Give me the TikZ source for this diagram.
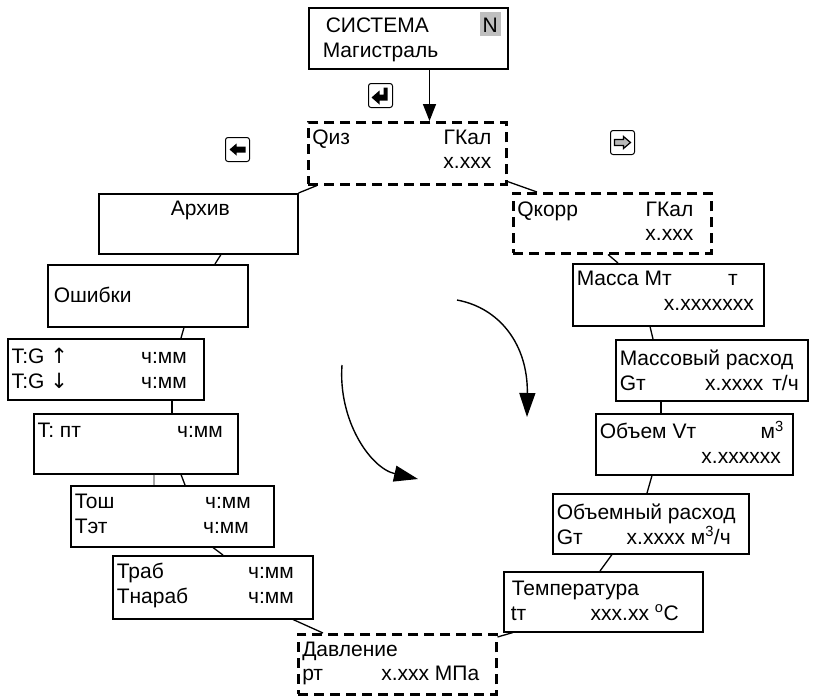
\documentclass[tikz,border=0pt]{standalone}
\usepackage{fontspec}
\setmainfont{Liberation Sans}
\newfontfamily\arrowfont{DejaVu Sans}
\usepackage{xcolor}
\usetikzlibrary{arrows.meta,calc}

% screen text: [first baseline]{width}{height}{lines}
\newcommand{\lcd}[4][23pt]{\hspace*{4pt}\parbox[t][#3][t]{\dimexpr#2-4pt\relax}{\rule{0pt}{#1}#4}}
\newcommand{\badge}[1]{{\fboxsep=3pt\colorbox{gray!50}{\rule{0pt}{18pt}#1}}}
\newcommand{\arw}[1]{{\arrowfont #1}}

\tikzset{
  screen/.style={
    rectangle, draw=black, line width=1.5pt, inner sep=0pt,
    anchor=north west, font=\fontsize{21}{24.5}\selectfont
  },
  cursor/.style={screen, line width=2.5pt, dash pattern=on 10pt off 6pt},
  link/.style={draw=black, line width=1.3pt},
  ghost/.style={draw=black!35, line width=1.3pt},
  down/.style={-{Triangle[length=17pt,width=13pt]}, line width=1.5pt},
  turn/.style={-{Triangle[length=24pt,width=16pt]}, line width=1.4pt},
  keycap/.style={
    draw=black, line width=1pt, rounded corners=2.5pt,
    minimum size=24pt, inner sep=0pt, anchor=north west
  },
}

\begin{document}
\begin{tikzpicture}[x=1pt,y=-1pt]
  \useasboundingbox (0,0) rectangle (814,697);

  % top screen
  \node[screen] (sys) at (308,7)
    {\lcd[25pt]{199pt}{61pt}{\hspace*{13pt}СИСТЕМА\hfill\badge{N}\hspace*{7pt}\\
      \hspace*{10pt}Магистраль}};

  % heat screens
  \node[cursor] (qiz) at (307,121)
    {\lcd[22pt]{198pt}{62pt}{Qиз\hfill ГКал\hspace*{15pt}\\ \null\hfill x.xxx\hspace*{15pt}}};
  \node[cursor] (qkorr) at (512,192)
    {\lcd{198pt}{60pt}{Qкорр\hfill ГКал\hspace*{18pt}\\ \null\hfill x.xxx\hspace*{18pt}}};

  % left branch
  \node[screen] (arhiv) at (98,193)
    {\lcd[22pt]{199pt}{60pt}{\hfill Архив\hfill\null}};
  \node[screen] (oshib) at (47,264)
    {\lcd[38pt]{200pt}{62pt}{\hspace*{2pt}Ошибки}};
  \node[screen] (tg) at (7,338)
    {\lcd[25pt]{196pt}{61pt}{T:G \arw{↑}\hfill ч:мм\hspace*{17pt}\\ T:G \arw{↓}\hfill ч:мм\hspace*{17pt}}};
  \node[screen] (tpt) at (33,413)
    {\lcd[24pt]{204pt}{60pt}{T: пт\hfill ч:мм\hspace*{15pt}}};
  \node[screen] (tosh) at (70,485)
    {\lcd{203pt}{61pt}{Тош\hfill ч:мм\hspace*{23pt}\\ Тэт\hfill ч:мм\hspace*{25pt}}};
  \node[screen] (trab) at (112,555)
    {\lcd{200pt}{63pt}{Траб\hfill ч:мм\hspace*{19pt}\\ Тнараб\hfill ч:мм\hspace*{19pt}}};

  % right branch
  \node[screen] (massa) at (572,263)
    {\lcd[22pt]{191pt}{62pt}{Масса Mт\hfill т\hspace*{26pt}\\ \null\hfill x.xxxxxxx\hspace*{10pt}}};
  \node[screen] (mrashod) at (615,339)
    {\lcd[26pt]{192pt}{61pt}{Массовый~расход\\ Gт\hfill x.xxxx\hspace*{9pt}т/ч\hspace*{9pt}}};
  \node[screen] (vol) at (595,413)
    {\lcd[25pt]{197pt}{61pt}{Объем Vт\hfill м\textsuperscript{3}\hspace*{9pt}\\ \null\hfill x.xxxxxx\hspace*{12pt}}};
  \node[screen] (vrashod) at (552,493)
    {\lcd[26pt]{196pt}{60pt}{Объемный~расход\\ Gт\hfill x.xxxx м\textsuperscript{3}/ч\hspace*{18pt}}};
  \node[screen] (temp) at (503,571)
    {\lcd[24pt]{199pt}{60pt}{\hspace*{4pt}Температура\\ \hspace*{3pt}tт\hfill xxx.xx \textsuperscript{o}C\hspace*{24pt}}};

  % bottom screen
  \node[cursor] (davl) at (297,633)
    {\lcd[22pt]{198pt}{60pt}{Давление\\ рт\hfill x.xxx МПа\hspace*{17pt}}};

  % keys
  \node[keycap, path picture={
      \fill[sharp corners, shift={(path picture bounding box.center)}]
        (7,-8) -- (7,5) -- (-1,5) -- (-1,9) -- (-9,2) -- (-1,-5) -- (-1,-1) -- (3,-1) -- (3,-8) -- cycle;
    }] (keyEnter) at (368,83) {};
  \node[keycap, path picture={
      \fill[sharp corners, shift={(path picture bounding box.center)}]
        (-8,0) -- (-1,-6) -- (-1,-3) -- (8,-3) -- (8,3) -- (-1,3) -- (-1,6) -- cycle;
    }] (keyLeft) at (225,137) {};
  \node[keycap, path picture={
      \filldraw[sharp corners, fill=gray!55, line width=1.2pt, shift={(path picture bounding box.center)}]
        (8,0) -- (1,-6) -- (1,-3) -- (-8,-3) -- (-8,3) -- (1,3) -- (1,6) -- cycle;
    }] (keyRight) at (610,130) {};

  % links
  \draw[down] ([xshift=-79pt]sys.south east) -- ([xshift=-79pt]sys.south east |- qiz.north);
  \draw[link] ([xshift=10pt]qiz.south west) -- (arhiv.north east);
  \draw[link] ([yshift=4pt]qiz.south east) -- ([xshift=25pt]qkorr.north west);
  \draw[link] ([xshift=96pt]qkorr.south west) -- ([xshift=46pt]massa.north west);
  \draw[link] ([xshift=78pt]massa.south west) -- ([xshift=38pt]mrashod.north west);
  \draw[link] ([xshift=46pt]mrashod.south west) -- ([xshift=66pt]vol.north west);
  \draw[link] ([xshift=57pt]vol.south west) -- ([xshift=95pt]vrashod.north west);
  \draw[link] ([xshift=60pt]vrashod.south west) -- ([xshift=97pt]temp.north west);
  \draw[link] ([xshift=10pt]temp.south west) -- ([yshift=-4pt]davl.north east);
  \draw[link] ([xshift=181pt]trab.south west) -- ([xshift=26pt]davl.north west);
  \draw[link] ([xshift=143pt]tosh.south west) -- ([xshift=111pt]trab.north west);
  \draw[ghost] ([xshift=121pt]tpt.south west) -- ([xshift=84pt]tosh.north west);
  \draw[link] ([xshift=148pt]tpt.south west) -- ([xshift=115pt]tosh.north west);
  \draw[link] ([xshift=165pt]tg.south west) -- ([xshift=139pt]tpt.north west);
  \draw[link] ([xshift=137pt]oshib.south west) -- ([xshift=174pt]tg.north west);
  \draw[link] ([xshift=123pt]arhiv.south west) -- ([xshift=168pt]oshib.north west);

  % rotation arrows
  \coordinate (spinA) at (457,300);
  \coordinate (spinB) at (527,417);
  \coordinate (spinC) at (342,365);
  \coordinate (spinD) at (418,479);
  \draw[turn] (spinA) .. controls (500,308) and (528,345) .. (spinB);
  \draw[turn] (spinC) .. controls (338,420) and (370,468) .. (spinD);
\end{tikzpicture}
\end{document}
